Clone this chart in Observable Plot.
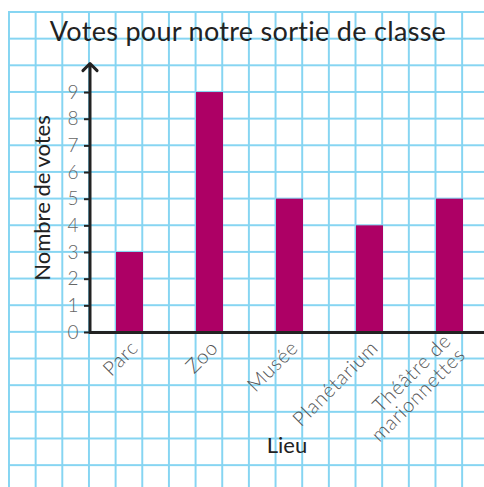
<!DOCTYPE html>
<html>
<head>
<meta charset="utf-8">
<script src="https://cdn.jsdelivr.net/npm/d3@7"></script>
<script src="https://cdn.jsdelivr.net/npm/@observablehq/plot@0.6"></script>
<style>
  html, body { margin: 0; padding: 0; background: #fff; overflow: hidden; }
  #wrap { position: relative; width: 484px; height: 487px; overflow: hidden; background: #fff; }
  #grid {
    position: absolute; left: 8px; top: 11px; right: 0; bottom: 0;
    background-image:
      linear-gradient(to right, #86d5f2 2px, transparent 2px),
      linear-gradient(to bottom, #86d5f2 2px, transparent 2px);
    background-size: 26.667px 26.667px;
    background-position: 0 0;
  }
  #title {
    position: absolute; left: 0; width: 496px; top: 14px;
    text-align: center; font-family: Lato, "Open Sans", sans-serif;
    font-size: 27px; letter-spacing: 0.3px; color: #222; white-space: nowrap;
  }
  #chart { position: absolute; left: 0; top: 0; }
  #chart svg { background: transparent; overflow: visible; }
  g[aria-label="y-axis tick label"] text { fill: #666; font-size: 19px; font-weight: 300; }
  g[aria-label="x-axis tick label"] text { fill: #555; font-size: 20px; font-weight: 300; letter-spacing: 0.8px; }
  g[aria-label="y-axis label"] text, g[aria-label="x-axis label"] text { fill: #222; font-size: 22px; }
</style>
</head>
<body>
<div id="wrap">
  <div id="grid"></div>
  <div id="chart"></div>
  <div id="title"></div>
</div>
<script>
const categories = ["Parc", "Zoo", "Musée", "Planétarium", "Théâtre de\nmarionnettes"];
const votes = [3, 9, 5, 4, 5];
const yTicks = [0, 1, 2, 3, 4, 5, 6, 7, 8, 9];
const titleText = "Votes pour notre sortie de classe";
const yLabel = "Nombre de votes";
const xLabel = "Lieu";

const data = categories.map((c, i) => ({lieu: c, votes: votes[i]}));
const yTop = 10.09;

document.getElementById("title").textContent = titleText;

const chart = Plot.plot({
  width: 484,
  height: 487,
  marginTop: 63,
  marginBottom: 155,
  marginLeft: 89,
  marginRight: 0,
  style: {background: "transparent", fontFamily: "Lato, 'Open Sans', sans-serif", fontSize: "17px"},
  x: {domain: categories, range: [89, 489.67], paddingInner: 2 / 3, paddingOuter: 1 / 3, align: 0.5},
  y: {domain: [0, yTop]},
  marks: [
    Plot.barY(data, {x: "lieu", y: "votes", fill: "#ad0065"}),
    Plot.ruleY([0], {stroke: "#222", strokeWidth: 3}),
    Plot.arrow([0], {
      x1: () => categories[0], x2: () => categories[0],
      y1: 0, y2: yTop, dx: -40,
      stroke: "#222", strokeWidth: 3, headAngle: 90, headLength: 5
    }),
    Plot.axisY(yTicks, {tickSize: 5, tickFormat: () => "", stroke: "#222", strokeWidth: 2, label: null}),
    Plot.axisY(yTicks, {
      tickSize: 0, tickPadding: 11, fill: "#666", fontSize: 19,
      label: yLabel, labelAnchor: "center", labelOffset: 55, labelArrow: false
    }),
    Plot.axisX({
      tickSize: 0, tickPadding: 12, tickRotate: -45, dx: 5, fontSize: 20,
      label: xLabel, labelAnchor: "center", labelOffset: 120, labelArrow: false
    })
  ]
});
document.getElementById("chart").appendChild(chart);
</script>
</body>
</html>
